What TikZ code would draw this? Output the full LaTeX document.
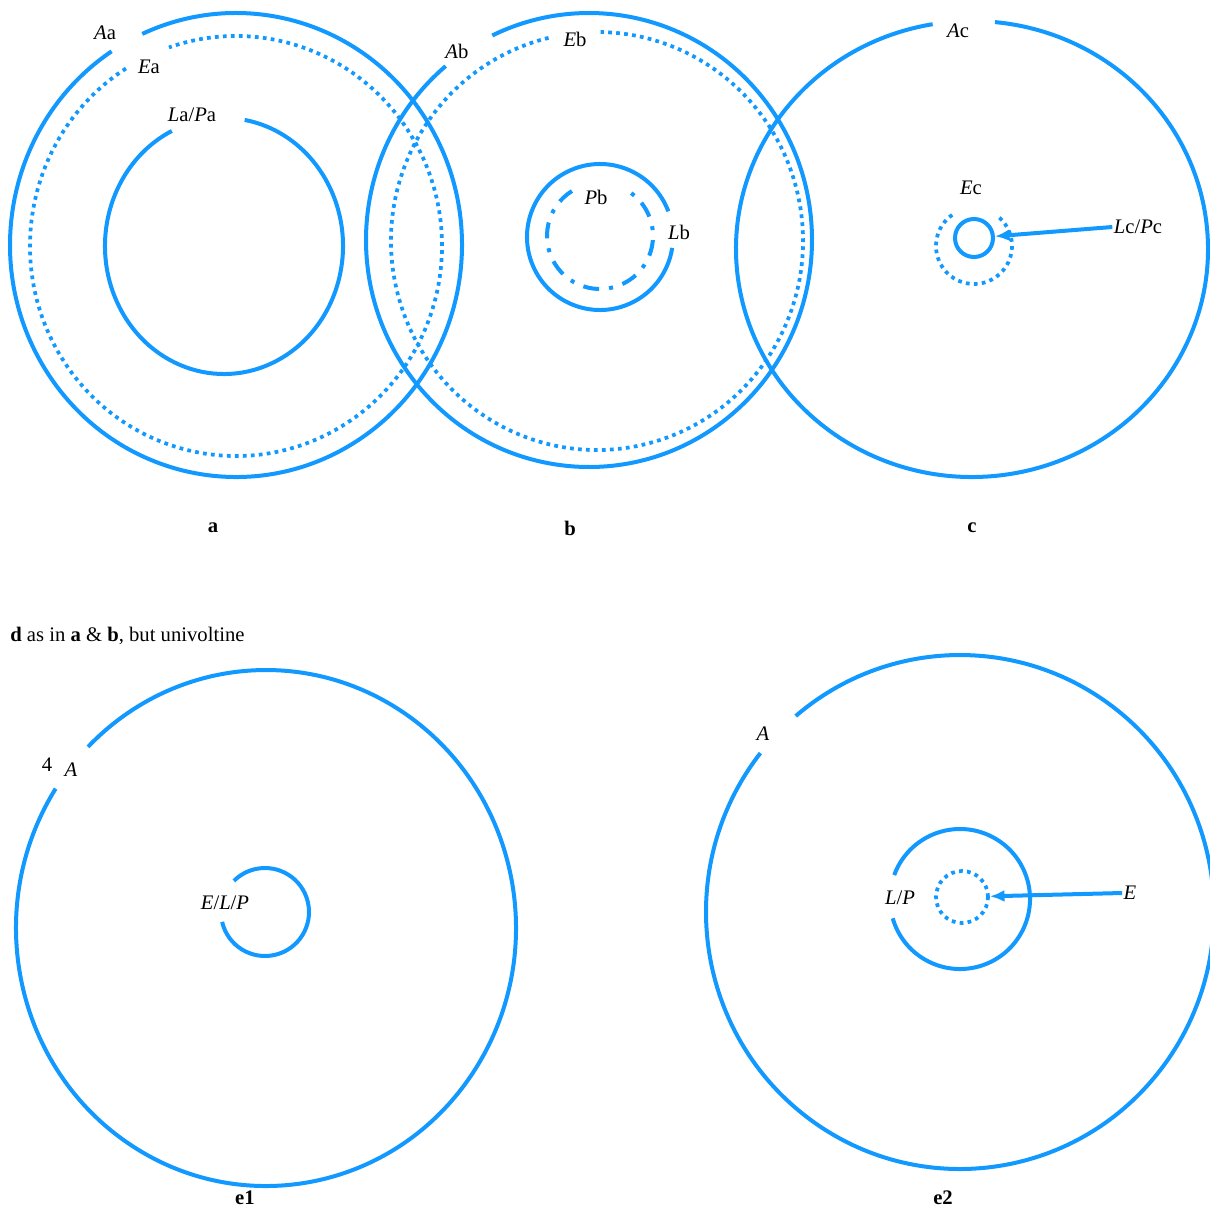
\documentclass[tikz,border=0pt]{standalone}
\usepackage{fontspec}
\setmainfont{Liberation Serif}
\usetikzlibrary{arrows.meta}
\definecolor{cblue}{RGB}{17,153,255}
\newcommand\ringarc[6]{\draw[#1] ([shift={(-#3:#5 and #6)}]#2) arc[start angle=-#3, end angle=-#4, x radius=#5, y radius=#6];}
\begin{document}
\begin{tikzpicture}[x=0.75pt,y=-0.75pt,
  solidline/.style={draw=cblue, line width=3pt},
  dotline/.style={draw=cblue, line width=2.8pt, dash pattern=on 2.8pt off 3.2pt},
  dashdotline/.style={draw=cblue, line width=3pt, dash pattern=on 12pt off 7.5pt on 3pt off 7.5pt},
  lbl/.style={font=\fontsize{15.5}{18}\selectfont, inner sep=1pt},
  panel/.style={font=\fontsize{15.5}{18}\selectfont\bfseries, inner sep=1pt},
  arr/.style={draw=cblue, line width=3pt, -{Latex[length=11pt,width=9pt]}}]
\useasboundingbox[fill=white] (0,0) rectangle (1210,1214);

% ---- panel a ----
\coordinate (ca) at (236,245);
\coordinate (cea) at (236,246);
\coordinate (cla) at (224,246);
\ringarc{solidline}{ca}{123.4}{474.5}{226}{232}
\ringarc{dotline}{cea}{122.3}{469}{206}{210}
\ringarc{solidline}{cla}{116}{440}{119}{128}
\node[lbl] (Aa) at (105,33) {\textit{A}a};
\node[lbl] (Ea) at (149,67) {\textit{E}a};
\node[lbl] (LaPa) at (192,115) {\textit{L}a/\textit{P}a};

% ---- panel b ----
\coordinate (cb) at (589,240);
\coordinate (ceb) at (597,241);
\coordinate (clb) at (600,237);
\coordinate (cpb) at (600,236);
\ringarc{solidline}{cb}{130}{475.7}{223}{227}
\ringarc{dotline}{ceb}{103.6}{449}{206}{209}
\ringarc{solidline}{clb}{20.6}{351.4}{73}{73}
\ringarc{dashdotline}{cpb}{122}{415}{53}{53}
\node[lbl] (Ab) at (457,51) {\textit{A}b};
\node[lbl] (Eb) at (575,39) {\textit{E}b};
\node[lbl] (Pb) at (596,197) {\textit{P}b};
\node[lbl] (Lb) at (679,232) {\textit{L}b};

% ---- panel c ----
\coordinate (cc) at (972,249);
\coordinate (cec) at (974,246);
\ringarc{solidline}{cc}{99.6}{444.4}{236}{228}
\ringarc{dotline}{cec}{125}{414}{38}{38}
\node[draw=cblue, line width=3pt, circle, minimum size=28.5pt, inner sep=0pt] (Lcc) at (974,238) {};
\node[lbl] (Ac) at (958,31) {\textit{A}c};
\node[lbl] (Ec) at (971,188) {\textit{E}c};
\node[lbl] (LcPc) at (1138,227) {\textit{L}c/\textit{P}c};
\draw[arr] (LcPc.west) -- (Lcc);

% ---- panel labels ----
\node[panel] (la) at (213,528) {a};
\node[panel] (lb) at (570,528) {b};
\node[panel] (lc) at (972,528) {c};
\node[lbl, anchor=west, inner sep=0pt] (ld) at (10,636) {\textbf{d} as in \textbf{a} \& \textbf{b}, but univoltine};

% ---- panel e1 ----
\coordinate (ce1) at (266,928);
\coordinate (ci1) at (265,912);
\ringarc{solidline}{ce1}{147.3}{495.4}{250}{258}
\ringarc{solidline}{ci1}{193}{495}{44}{44}
\node[lbl] (A1) at (71,770) {\textit{A}};
\node[lbl] (A1x) at (47,765) {4};
\node[lbl] (ELP) at (225,903) {\textit{E}/\textit{L}/\textit{P}};
\node[panel] (le1) at (245,1198) {e1};

% ---- panel e2 ----
\coordinate (ce2) at (960,912);
\coordinate (ci2) at (960,899);
\ringarc{solidline}{ce2}{141.8}{490.3}{254}{257}
\ringarc{solidline}{ci2}{196}{520}{70}{70}
\node[draw=cblue, line width=2.8pt, dash pattern=on 2.8pt off 3.2pt, circle, minimum size=39pt, inner sep=0pt] (Ee2) at (962,897) {};
\node[lbl] (A2) at (763,734) {\textit{A}};
\node[lbl] (LP2) at (900,898) {\textit{L}/\textit{P}};
\node[lbl] (E2) at (1130,893) {\textit{E}};
\draw[arr] (E2.west) -- (Ee2);
\node[panel] (le2) at (943,1198) {e2};
\end{tikzpicture}
\end{document}
